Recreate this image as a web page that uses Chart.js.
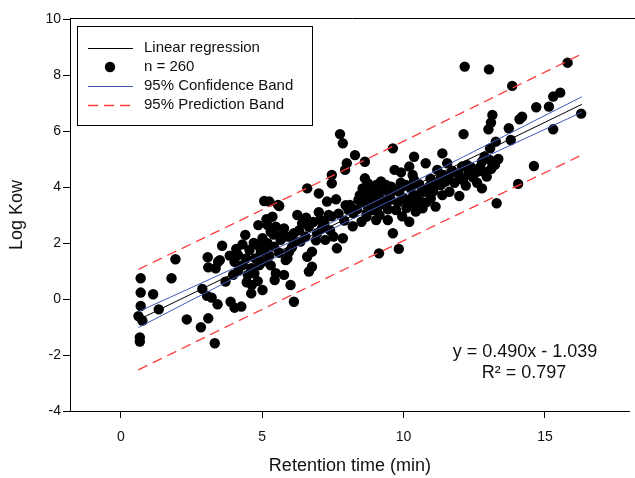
<!DOCTYPE html>
<html>
<head>
<meta charset="utf-8">
<script src="https://cdn.jsdelivr.net/npm/chart.js@4"></script>
<style>
  body { margin: 0; background: #fff; }
  #wrap { width: 635px; height: 478px; }
</style>
</head>
<body>
<div id="wrap"><canvas id="myChart" width="635" height="478"></canvas></div>
<script>
// retention time (min) and log Kow of each compound
const retentionTimes = [
  0.62, 0.70, 0.70, 0.70, 0.76, 0.67, 0.67, 1.14, 1.34, 1.79,
  1.93, 2.33, 2.83, 2.88, 3.07, 3.09, 3.05, 3.21, 3.09, 3.32,
  3.44, 3.35, 3.50, 3.58, 3.42, 3.70, 3.88, 4.02, 3.97, 4.08,
  4.14, 4.02, 4.31, 4.40, 4.43, 4.26, 4.49, 4.61, 4.63, 4.61,
  4.72, 4.84, 5.01, 4.90, 4.95, 4.84, 5.01, 5.19, 4.86, 5.15,
  5.07, 5.56, 5.36, 5.19, 5.30, 5.48, 5.77, 5.89, 6.12, 5.89,
  5.48, 5.77, 5.44, 6.00, 6.12, 7.75, 7.85, 8.28, 7.99, 7.93,
  8.63, 7.46, 7.46, 8.63, 8.74, 6.59, 7.00, 7.29, 7.61, 8.45,
  8.80, 5.60, 5.25, 6.24, 6.12, 6.41, 6.65, 7.05, 7.11, 7.35,
  6.94, 7.23, 7.52, 7.85, 7.64, 8.05, 8.22, 8.40, 8.69, 8.92,
  6.76, 6.59, 6.76, 6.65, 5.83, 5.95, 5.42, 5.65, 6.35, 6.53,
  9.62, 10.37, 10.78, 11.37, 9.68, 9.91, 10.20, 10.32, 11.19, 11.37,
  8.92, 9.03, 9.38, 9.56, 10.08, 10.37, 10.90, 11.13, 8.10, 8.57,
  9.15, 9.50, 9.85, 10.32, 10.72, 10.96, 8.92, 9.38, 9.73, 10.14,
  10.61, 11.13, 8.69, 9.15, 9.44, 8.51, 10.20, 9.62, 10.67, 10.43,
  9.83, 9.13, 9.03, 8.69, 12.16, 13.02, 13.84, 14.69, 13.14, 13.09,
  13.00, 14.10, 14.19, 13.72, 12.12, 13.79, 13.26, 13.06, 12.86, 12.77,
  13.06, 13.23, 12.94, 12.63, 12.39, 12.53, 12.07, 11.54, 11.72, 11.31,
  11.48, 11.31, 11.37, 11.62, 11.97, 12.77, 13.29, 14.05, 14.61, 12.24,
  15.80, 15.54, 15.29, 15.14, 16.28, 15.29, 4.55, 4.70, 5.10, 5.25,
  5.40, 5.60, 4.30, 5.05, 5.70, 4.75, 5.30, 6.05, 6.30, 6.55,
  6.80, 7.00, 7.20, 7.45, 7.70, 7.90, 6.90, 7.40, 7.95, 8.20,
  8.35, 8.55, 8.80, 9.00, 9.10, 9.25, 9.30, 9.45, 9.55, 9.65,
  9.80, 9.90, 10.00, 10.10, 10.25, 10.45, 10.55, 10.80, 10.95, 11.05,
  11.60, 11.80, 11.95, 12.10, 12.30, 12.45, 12.70, 12.85, 13.10, 13.35,
  12.20, 12.60, 4.15, 4.45, 3.85, 9.20, 10.65, 9.95, 8.60, 10.35
];
const logKow = [
  -0.61, 0.74, 0.23, -0.25, -0.77, -1.37, -1.52, 0.17, -0.37, 0.74,
  1.42, -0.73, -1.01, 0.36, 1.49, 1.13, 0.11, 0.05, -0.69, -1.58,
  1.33, 1.10, 1.39, 1.90, -0.19, 0.62, -0.10, -0.31, 0.86, 1.79,
  1.57, 1.33, 1.21, 2.29, 1.45, -0.27, 0.86, 0.20, 0.50, 1.10,
  0.92, 0.64, 0.32, 1.21, 1.69, 1.93, 2.17, 1.99, 2.64, 2.85,
  3.50, 3.36, 2.94, 2.64, 2.40, 2.58, 2.52, 2.23, 2.05, 1.45,
  0.92, 0.86, 0.68, 0.50, -0.10, 5.89, 5.56, 5.14, 4.85, 4.61,
  4.90, 4.43, 4.13, 4.31, 4.13, 3.95, 3.77, 3.48, 3.56, 3.71,
  3.83, 3.32, 3.48, 3.00, 2.35, 2.70, 2.58, 2.82, 2.52, 3.00,
  2.35, 2.11, 2.23, 2.17, 1.81, 3.18, 3.06, 3.54, 3.36, 3.54,
  1.69, 1.51, 1.15, 0.98, 1.39, 1.69, 1.87, 2.11, 2.05, 2.23,
  5.38, 5.08, 4.85, 5.20, 4.61, 4.52, 4.73, 4.43, 4.61, 4.43,
  3.83, 4.07, 4.07, 4.01, 4.07, 4.25, 4.01, 4.13, 3.36, 3.48,
  3.60, 3.71, 3.83, 3.65, 3.83, 3.60, 3.18, 3.36, 3.18, 3.48,
  3.48, 3.30, 3.06, 3.00, 2.82, 2.76, 2.76, 2.35, 3.24, 3.12,
  1.79, 1.63, 2.82, 2.94, 8.30, 8.20, 7.61, 6.85, 6.57, 6.30,
  6.06, 6.42, 6.51, 6.10, 5.89, 5.68, 5.62, 5.38, 5.08, 4.90,
  4.96, 4.79, 4.37, 4.55, 4.70, 4.61, 4.73, 4.85, 4.58, 4.31,
  4.19, 4.07, 3.71, 3.83, 3.68, 3.95, 3.42, 4.11, 4.75, 4.79,
  8.44, 7.37, 7.23, 6.87, 6.62, 6.06, 1.75, 2.00, 1.80, 1.55,
  2.30, 1.65, 1.95, 1.35, 2.30, 1.45, 1.20, 1.85, 2.45, 2.90,
  2.75, 3.10, 2.70, 2.95, 3.05, 2.80, 2.10, 2.45, 3.35, 2.60,
  3.20, 3.95, 3.45, 3.70, 3.30, 3.90, 3.50, 3.20, 3.55, 3.90,
  3.45, 4.15, 3.60, 3.25, 3.95, 3.70, 4.10, 3.45, 4.30, 3.85,
  4.40, 4.15, 4.45, 4.25, 4.50, 4.35, 4.70, 4.55, 4.65, 5.00,
  4.05, 4.15, 1.00, 0.60, 1.55, 4.20, 3.90, 2.95, 3.65, 3.40
];

// fitted line and bands, read at a few x positions
const lineX = [0.62, 16.3];
const lineY = [-0.74, 6.95];
const bandX = [0.62, 4, 8.5, 12, 16.3];
const confUpper = [-0.45, 1.10, 3.24, 5.02, 7.22];
const confLower = [-1.02, 0.74, 3.01, 4.66, 6.67];
const predUpper = [1.06, 2.70, 4.90, 6.62, 8.75];
const predLower = [-2.53, -0.86, 1.35, 3.06, 5.14];

const xTickValues = [0, 5, 10, 15];
const yTickValues = [-4, -2, 0, 2, 4, 6, 8, 10];
const legendLabels = ["Linear regression", "n = 260", "95% Confidence Band", "95% Prediction Band"];
const equationText = ["y = 0.490x - 1.039", "R\u00b2 = 0.797"];

const FONT = "'Liberation Sans', Arial, sans-serif";
const RED = "#ff3b3b";
const BLUE = "#4058b8";

function toPoints(xs, ys) {
  return xs.map(function (x, i) { return { x: x, y: ys[i] }; });
}

function bandSet(ys, color, dash) {
  return {
    type: "line",
    data: toPoints(bandX, ys),
    borderColor: color,
    borderWidth: dash ? 1.3 : 1,
    borderDash: dash || [],
    pointRadius: 0,
    fill: false,
    cubicInterpolationMode: "monotone",
    order: 1,
  };
}

// top frame line, legend box and the equation
const extras = {
  id: "extras",
  afterDraw: function (chart) {
    const ctx = chart.ctx;
    const a = chart.chartArea;
    ctx.save();
    ctx.strokeStyle = "#000";
    ctx.lineWidth = 1;
    ctx.beginPath();
    ctx.moveTo(a.left, a.top - 0.5);
    ctx.lineTo(chart.width, a.top - 0.5);
    ctx.stroke();

    ctx.fillStyle = "#fff";
    ctx.fillRect(77.5, 26.5, 235, 99);
    ctx.strokeRect(77.5, 26.5, 235, 99);

    const rows = [48, 67, 86, 105];
    ctx.font = "15px " + FONT;
    ctx.textBaseline = "middle";
    ctx.textAlign = "left";
    ctx.fillStyle = "#111";
    legendLabels.forEach(function (t, i) {
      ctx.fillText(t, 144, rows[i]);
    });

    ctx.lineWidth = 1;
    ctx.strokeStyle = "#000";
    ctx.beginPath();
    ctx.moveTo(88, rows[0] + 0.5);
    ctx.lineTo(133, rows[0] + 0.5);
    ctx.stroke();

    ctx.fillStyle = "#000";
    ctx.beginPath();
    ctx.arc(110, rows[1], 5.2, 0, Math.PI * 2);
    ctx.fill();

    ctx.strokeStyle = BLUE;
    ctx.beginPath();
    ctx.moveTo(88, rows[2] + 0.5);
    ctx.lineTo(133, rows[2] + 0.5);
    ctx.stroke();

    ctx.strokeStyle = RED;
    ctx.lineWidth = 1.3;
    ctx.setLineDash([10, 6]);
    ctx.beginPath();
    ctx.moveTo(88, rows[3] + 0.5);
    ctx.lineTo(133, rows[3] + 0.5);
    ctx.stroke();
    ctx.setLineDash([]);

    ctx.font = "18px " + FONT;
    ctx.textAlign = "center";
    ctx.fillStyle = "#111";
    ctx.fillText(equationText[0], 525, 352);
    ctx.fillText(equationText[1], 524, 373);
    ctx.restore();
  },
};

var ctx = document.getElementById("myChart").getContext("2d");
var chart = new Chart(ctx, {
  type: "scatter",
  data: {
    datasets: [
      {
        type: "line",
        data: toPoints(lineX, lineY),
        borderColor: "#000",
        borderWidth: 1,
        pointRadius: 0,
        fill: false,
        order: 1,
      },
      bandSet(confUpper, BLUE),
      bandSet(confLower, BLUE),
      bandSet(predUpper, RED, [10, 6]),
      bandSet(predLower, RED, [10, 6]),
      {
        data: toPoints(retentionTimes, logKow),
        backgroundColor: "#000",
        borderWidth: 0,
        pointRadius: 5.2,
        pointHoverRadius: 5.2,
        order: 5,
      },
    ],
  },
  options: {
    responsive: false,
    animation: false,
    devicePixelRatio: 1,
    layout: { padding: { left: 0, right: 0, top: 19, bottom: 0 } },
    plugins: { legend: { display: false }, tooltip: { enabled: false } },
    scales: {
      x: {
        type: "linear",
        min: -1.8,
        max: 18,
        afterBuildTicks: function (scale) {
          scale.ticks = xTickValues.map(function (v) { return { value: v }; });
        },
        afterFit: function (scale) {
          scale.height = 67;
          scale.paddingRight = 0;
        },
        grid: { drawOnChartArea: false, drawTicks: true, tickLength: 7, color: "#000" },
        border: { display: true, color: "#000", width: 1 },
        ticks: { color: "#111", font: { family: FONT, size: 14 }, padding: 11, maxRotation: 0 },
        title: {
          display: true,
          text: "Retention time (min)",
          color: "#111",
          font: { family: FONT, size: 18 },
          padding: { top: 0, bottom: 1 },
        },
      },
      y: {
        type: "linear",
        min: -4,
        max: 10,
        afterBuildTicks: function (scale) {
          scale.ticks = yTickValues.map(function (v) { return { value: v }; });
        },
        afterFit: function (scale) { scale.width = 70; },
        grid: { drawOnChartArea: false, drawTicks: true, tickLength: 7, color: "#000" },
        border: { display: true, color: "#000", width: 1 },
        ticks: { color: "#111", font: { family: FONT, size: 14 }, padding: 2 },
        title: {
          display: true,
          text: "Log Kow",
          color: "#111",
          font: { family: FONT, size: 18 },
          padding: { top: 6, bottom: 0 },
        },
      },
    },
  },
  plugins: [extras],
});
</script>
</body>
</html>
